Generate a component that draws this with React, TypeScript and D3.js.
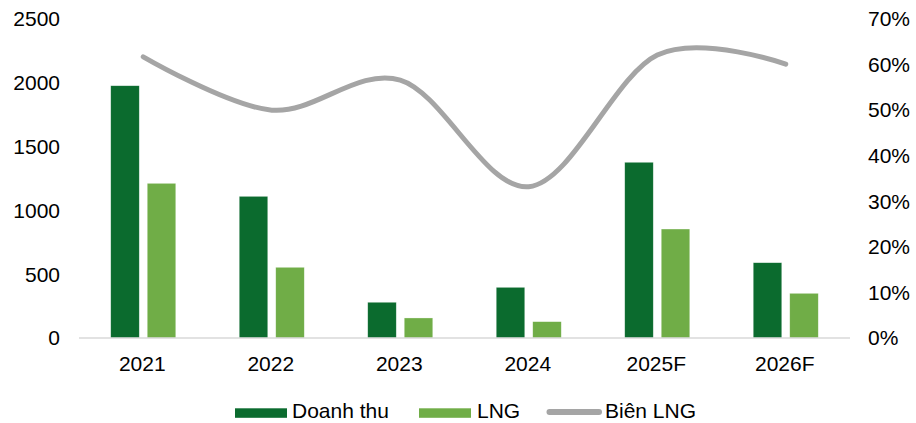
import React, { useEffect } from "react";
import * as d3 from "d3";

const categories = ["2021", "2022", "2023", "2024", "2025F", "2026F"];
const doanhThu = [1977, 1110, 280, 397, 1377, 590];
const lng = [1212, 554, 157, 128, 854, 350];
const bienLng = [61.7, 50.0, 56.6, 33.2, 62.1, 60.1];
const leftTicks = [0, 500, 1000, 1500, 2000, 2500];
const rightTicks = [0, 10, 20, 30, 40, 50, 60, 70];
const seriesNames = ["Doanh thu", "LNG", "Biên LNG"];

const W = 916;
const H = 423;
const DARK = "#0B6B2E";
const LIGHT = "#70AD47";
const GRAY = "#A5A5A5";
const FONT = "'Liberation Sans', Arial, sans-serif";

export default function App() {
  useEffect(() => {
    document.body.style.margin = "0";
  }, []);

  const x0 = d3.scaleBand<string>().domain(categories).range([79, 850]).padding(0);
  const yL = d3.scaleLinear().domain([0, 2500]).range([338, 19]);
  const yR = d3.scaleLinear().domain([0, 70]).range([338, 19]);
  const groupW = x0.bandwidth() * 0.506;
  const x1 = d3
    .scaleBand<string>()
    .domain(["d", "l"])
    .range([-groupW / 2, groupW / 2])
    .paddingInner(0.219);
  const cx = (c: string) => (x0(c) as number) + x0.bandwidth() / 2;

  const line = d3
    .line<number>()
    .x((_, i) => cx(categories[i]))
    .y((v) => yR(v))
    .curve(d3.curveCardinal.tension(0));

  return (
    <svg width={W} height={H} style={{ display: "block" }} fontFamily={FONT}>
      <rect width={W} height={H} fill="#fff" />
      {categories.map((c, i) => (
        <g key={c}>
          <rect
            x={cx(c) + (x1("d") as number)}
            y={yL(doanhThu[i])}
            width={x1.bandwidth()}
            height={yL(0) - yL(doanhThu[i])}
            fill={DARK}
            stroke="#ffffff"
            strokeOpacity={0.5}
            strokeWidth={0.6}
          />
          <rect
            x={cx(c) + (x1("l") as number)}
            y={yL(lng[i])}
            width={x1.bandwidth()}
            height={yL(0) - yL(lng[i])}
            fill={LIGHT}
            stroke="#ffffff"
            strokeOpacity={0.5}
            strokeWidth={0.6}
          />
        </g>
      ))}
      <line x1={79} x2={850} y1={yL(0)} y2={yL(0)} stroke="#D9D9D9" strokeWidth={1.5} />
      <path
        d={line(bienLng) || ""}
        fill="none"
        stroke={GRAY}
        strokeWidth={5}
        strokeLinecap="round"
        strokeLinejoin="round"
      />
      {leftTicks.map((t) => (
        <text key={t} x={60} y={yL(t)} dy="0.35em" textAnchor="end" fontSize={21} fill="#000">
          {t}
        </text>
      ))}
      {rightTicks.map((t) => (
        <text key={t} x={868} y={yR(t)} dy="0.35em" textAnchor="start" fontSize={21} fill="#000">
          {t}%
        </text>
      ))}
      {categories.map((c) => (
        <text key={c} x={cx(c) - 1} y={371} textAnchor="middle" fontSize={21} fill="#000">
          {c}
        </text>
      ))}
      <g fontSize={21} fill="#000">
        <rect x={235} y={408.3} width={52} height={9.5} fill={DARK} />
        <text x={292} y={418}>{seriesNames[0]}</text>
        <rect x={419} y={408.3} width={52} height={9.5} fill={LIGHT} />
        <text x={477} y={418}>{seriesNames[1]}</text>
        <line x1={549.5} x2={599} y1={412} y2={412} stroke={GRAY} strokeWidth={6} strokeLinecap="round" />
        <text x={605} y={418}>{seriesNames[2]}</text>
      </g>
    </svg>
  );
}
